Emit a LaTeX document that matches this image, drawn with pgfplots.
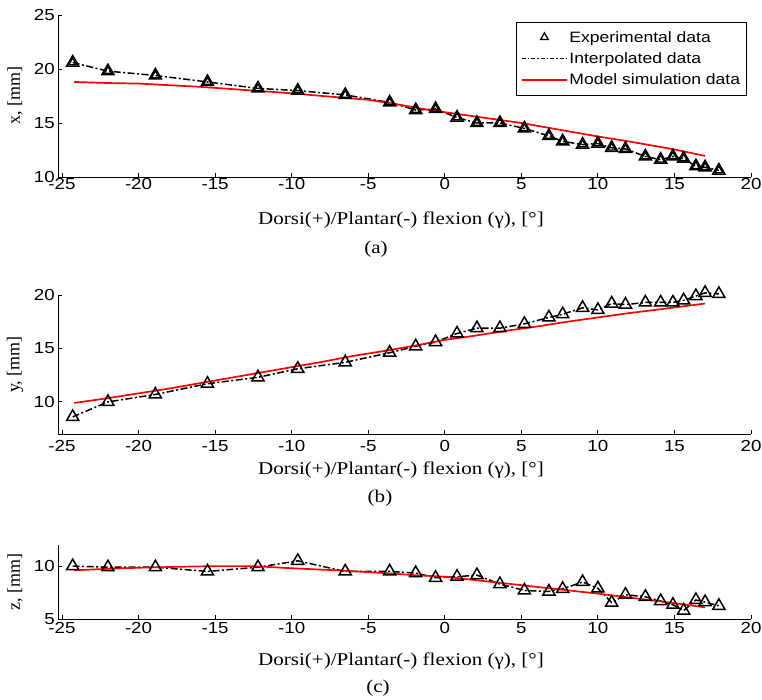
\documentclass[border=0pt]{standalone}
\usepackage{fontspec}
\setmainfont{Liberation Serif}[FakeStretch=1.17]
\setsansfont{Liberation Sans}[FakeStretch=1.17]
\newfontfamily\ylabfont{Liberation Serif}
\usepackage{pgfplots}
\usepackage{pgfplotstable}
\pgfplotsset{compat=1.18}

% experimental points (angle, x, y, z)
\pgfplotstableread{
ang   px    py    pz
-24.3 20.6  8.6   10.0
-22.0 19.8  10.0  9.9
-18.9 19.4  10.7  9.9
-15.5 18.8  11.7  9.5
-12.2 18.2  12.3  9.9
-9.6  18.0  13.1  10.5
-6.5  17.6  13.7  9.5
-3.6  16.9  14.6  9.5
-1.9  16.2  15.2  9.35
-0.6  16.3  15.6  8.9
0.8   15.5  16.4  9.0
2.1   15.0  16.9  9.15
3.6   15.0  16.9  8.3
5.2   14.5  17.3  7.7
6.8   13.8  17.9  7.6
7.7   13.3  18.2  7.85
9.0   13.0  18.8  8.5
10.0  13.1  18.6  7.9
10.9  12.7  19.2  6.55
11.8  12.6  19.1  7.3
13.1  11.9  19.3  7.1
14.1  11.6  19.3  6.7
14.9  11.9  19.3  6.35
15.6  11.7  19.5  5.8
16.4  11.0  19.9  6.8
17.0  10.9  20.2  6.6
17.9  10.6  20.1  6.25
}\expdata

% model simulation
\pgfplotstableread{
ang   v
-24.2 18.8
-22   18.7
-20   18.65
-18   18.5
-16   18.35
-15   18.25
-13   18.05
-10   17.75
-8    17.5
-5    17.15
-3    16.7
-1    16.2
0     16.0
2     15.6
5     15.0
7     14.5
10    13.75
12    13.3
15    12.55
17    11.95
}\simx
\pgfplotstableread{
ang   v
-24.2 9.9
-22   10.35
-20   10.8
-18   11.25
-16   11.75
-14   12.25
-12   12.75
-10   13.25
-8    13.75
-6    14.3
-4    14.75
-2    15.25
0     15.8
2     16.2
4     16.65
6     17.05
8     17.5
10    17.9
12    18.3
14    18.65
17    19.2
}\simy
\pgfplotstableread{
ang   v
-24.2 9.6
-22   9.75
-20   9.85
-17   9.95
-15   10.0
-12.5 10.0
-10   9.8
-7    9.6
-4    9.35
-2    9.15
0     9.0
2.5   8.6
5     8.2
7.5   7.8
10    7.4
12.5  6.95
15    6.5
17    6.1
}\simz

\pgfplotsset{
  panel/.style={
    scale only axis, width=693pt,
    xmin=-25.26, xmax=20,
    xtick={-25,-20,...,20},
    axis x line*=bottom, axis y line*=left,
    axis line style={-, line width=0.9pt},
    tick align=inside, major tick length=4pt,
    tick style={black, line width=0.9pt},
    clip=false,
    /pgf/number format/assume math mode=true,
    tick label style={font=\sffamily\fontsize{16}{18}\selectfont},
    xticklabel style={inner sep=1pt},
    yticklabel style={inner sep=3pt},
    ylabel style={font=\ylabfont\fontsize{18}{20}\selectfont,
      at={(axis description cs:-0.062,0.5)}, anchor=center},
  },
  expmark/.style={only marks, mark=triangle, mark size=7pt,
    mark options={line width=1.5pt, black, fill=white}},
  interp/.style={black, line width=1.5pt,
    dash pattern=on 7pt off 2.5pt on 2pt off 2.5pt},
  model/.style={red, line width=1.7pt},
  legtri/.style={legend image code/.code={
    \draw[##1] plot coordinates {(0.8cm,0cm)};}},
  legline/.style={legend image code/.code={
    \draw[##1] (0cm,0cm) -- (1.6cm,0cm);}},
}

\begin{document}
\begin{tikzpicture}
\path[use as bounding box] (0,0) rectangle (762pt,700pt);

% (a)
\begin{axis}[panel, at={(58pt,523pt)}, anchor=south west, height=162pt,
  ymin=10, ymax=25, ytick={10,15,20,25}, ylabel={x, [mm]},
  legend style={at={(rel axis cs:0.994,0.957)}, anchor=north east,
    draw=black, font=\sffamily\fontsize{15}{17}\selectfont,
    legend cell align=left, row sep=6pt, inner xsep=5pt, inner ysep=7.5pt,
    nodes={inner sep=1.5pt}},
]
\addplot[interp, forget plot] table[x=ang, y=px] {\expdata};
\addplot[model, forget plot] table[x=ang, y=v] {\simx};
\addplot[expmark, mark size=4.5pt, mark options={line width=1.3pt}, legtri] table[x=ang, y=px] {\expdata};
\addlegendentry{Experimental data}
\addplot[interp, line width=1.2pt, dash pattern=on 4pt off 2pt on 1.5pt off 2pt, legline] coordinates {(0,-100)};
\addlegendentry{Interpolated data}
\addplot[model, line width=1.5pt, legline] coordinates {(0,-100)};
\addlegendentry{Model simulation data}
\addplot[expmark, forget plot] table[x=ang, y=px] {\expdata};
\end{axis}

% (b)
\begin{axis}[panel, at={(58pt,266pt)}, anchor=south west, height=139pt,
  ymin=7, ymax=20, ytick={10,15,20}, ylabel={y, [mm]},
  xticklabel style={yshift=-5pt}]
\addplot[interp] table[x=ang, y=py] {\expdata};
\addplot[model] table[x=ang, y=v] {\simy};
\addplot[expmark] table[x=ang, y=py] {\expdata};
\end{axis}

% (c)
\begin{axis}[panel, at={(58pt,81pt)}, anchor=south west, height=74pt,
  ymin=5, ymax=12, ytick={5,10}, ylabel={z, [mm]},
  xticklabel style={yshift=-2pt}]
\addplot[interp] table[x=ang, y=pz] {\expdata};
\addplot[model] table[x=ang, y=v] {\simz};
\addplot[expmark] table[x=ang, y=pz] {\expdata};
\end{axis}

\begin{scope}[every node/.style={font=\fontsize{18}{20}\selectfont, inner sep=0pt}]
\node at (401pt,480pt) {Dorsi(+)/Plantar(-) flexion (γ), [°]};
\node at (376pt,451pt) {(a)};
\node at (401pt,230pt) {Dorsi(+)/Plantar(-) flexion (γ), [°]};
\node at (380pt,202pt) {(b)};
\node at (401pt,39pt) {Dorsi(+)/Plantar(-) flexion (γ), [°]};
\node at (378pt,12pt) {(c)};
\end{scope}
\end{tikzpicture}
\end{document}
